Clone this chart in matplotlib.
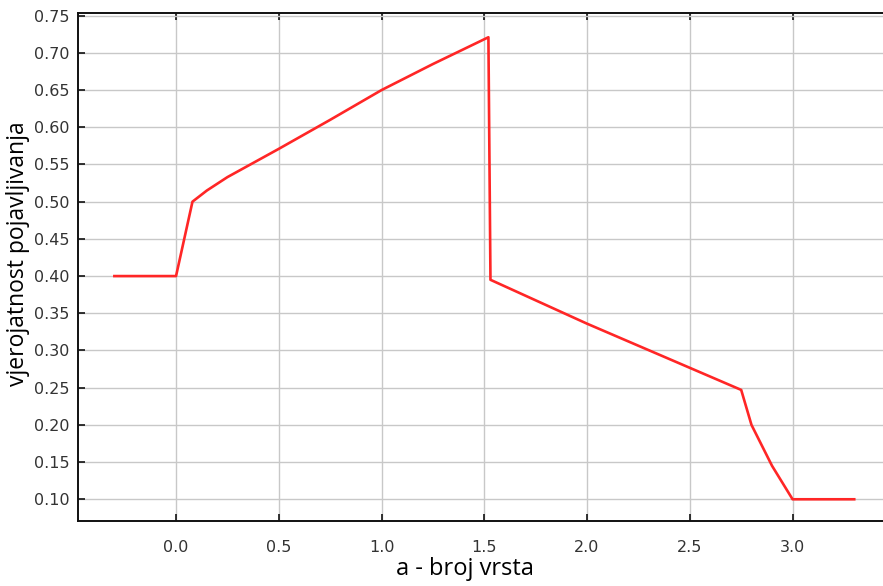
import matplotlib
matplotlib.use("Agg")
import matplotlib.pyplot as plt

# values
a_vals = [-0.3, 0.0, 0.08, 0.15, 0.25, 0.5, 0.75, 1.0, 1.25, 1.52, 1.53, 2.0, 2.75, 2.8, 2.9, 3.0, 3.3]
prob = [0.40, 0.40, 0.50, 0.515, 0.533, 0.571, 0.61, 0.65, 0.685, 0.721, 0.395, 0.336, 0.247, 0.20, 0.145, 0.10, 0.10]
x_ticks = [0.0, 0.5, 1.0, 1.5, 2.0, 2.5, 3.0]
y_ticks = [0.10, 0.15, 0.20, 0.25, 0.30, 0.35, 0.40, 0.45, 0.50, 0.55, 0.60, 0.65, 0.70, 0.75]

fig = plt.figure(figsize=(8.83, 5.86), dpi=100)
ax = fig.add_axes([78 / 883, 1 - 521 / 586, 1 - 78 / 883, (521 - 13) / 586])

ax.plot(a_vals, prob, color="#ff2626", linewidth=1.9)

ax.set_xlim(-0.477, 3.44)
ax.set_ylim(0.0708, 0.7536)
ax.set_xticks(x_ticks)
ax.set_xticklabels(["%.1f" % t for t in x_ticks])
ax.set_yticks(y_ticks)
ax.set_yticklabels(["%.2f" % t for t in y_ticks])
ax.grid(True, color="#c8c8c8", linewidth=1.0)
ax.set_axisbelow(True)

ax.spines["right"].set_visible(False)
for s in ["left", "top", "bottom"]:
    ax.spines[s].set_linewidth(1.4)
    ax.spines[s].set_color("#111111")
ax.tick_params(direction="in", length=5, width=1.2, top=True, right=False,
               labelsize=11.5, colors="#111111", pad=6)
ax.tick_params(axis="x", pad=14)
for lab in ax.get_xticklabels() + ax.get_yticklabels():
    lab.set_family("DejaVu Sans")
    lab.set_color("#333333")

ax.set_xlabel("a - broj vrsta", fontsize=17, family="Open Sans")
ax.set_ylabel("vjerojatnost pojavljivanja", fontsize=16.5, family="Open Sans")
ax.xaxis.set_label_coords(0.481, -0.095)
ax.yaxis.set_label_coords(-0.075, 0.526)
ax.xaxis.label.set_verticalalignment("center")
ax.yaxis.label.set_verticalalignment("center")

fig.savefig("out.png", dpi=100)
